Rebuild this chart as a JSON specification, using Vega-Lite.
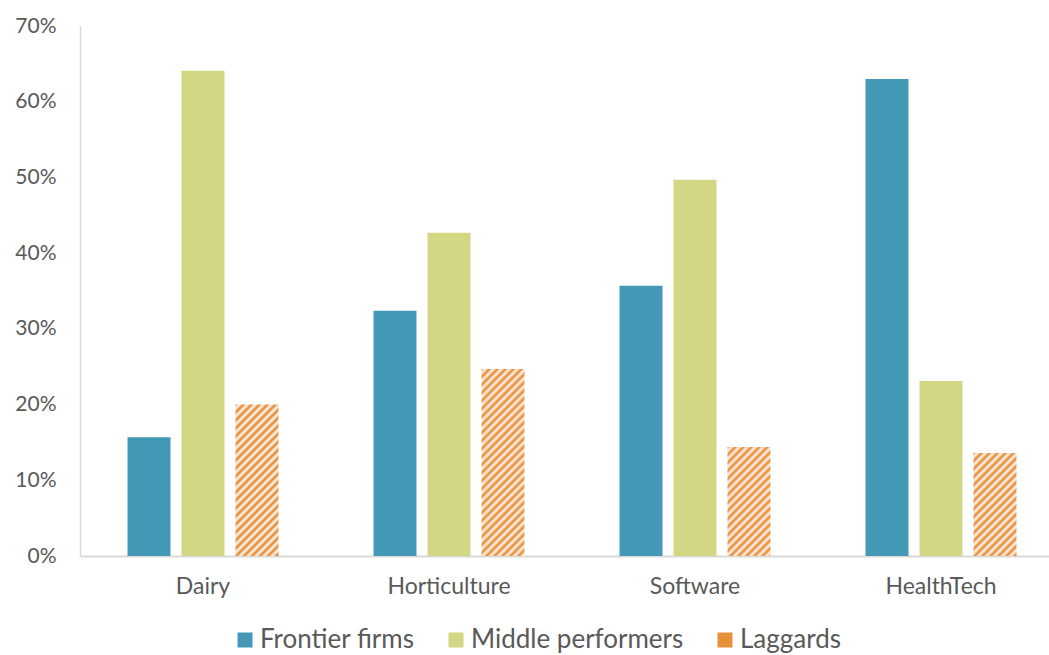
{
  "$schema": "https://vega.github.io/schema/vega-lite/v6.json",
  "width": 969,
  "height": 530,
  "autosize": {"type": "none"},
  "padding": {"left": 80, "top": 26, "right": 0, "bottom": 99},
  "background": "#ffffff",
  "config": {
    "view": {"stroke": null},
    "font": "Lato",
    "axis": {"labelFont": "Lato", "labelColor": "#595959"},
    "legend": {"labelFont": "Lato", "labelColor": "#595959"}
  },
  "data": {
    "values": [
      {"sector": "Dairy", "group": "Frontier firms", "value": 0.157},
      {"sector": "Dairy", "group": "Middle performers", "value": 0.641},
      {"sector": "Dairy", "group": "Laggards", "value": 0.200},
      {"sector": "Horticulture", "group": "Frontier firms", "value": 0.324},
      {"sector": "Horticulture", "group": "Middle performers", "value": 0.427},
      {"sector": "Horticulture", "group": "Laggards", "value": 0.247},
      {"sector": "Software", "group": "Frontier firms", "value": 0.357},
      {"sector": "Software", "group": "Middle performers", "value": 0.497},
      {"sector": "Software", "group": "Laggards", "value": 0.144},
      {"sector": "HealthTech", "group": "Frontier firms", "value": 0.630},
      {"sector": "HealthTech", "group": "Middle performers", "value": 0.231},
      {"sector": "HealthTech", "group": "Laggards", "value": 0.136}
    ]
  },
  "mark": {"type": "bar"},
  "encoding": {
    "x": {
      "field": "sector",
      "type": "nominal",
      "sort": ["Dairy", "Horticulture", "Software", "HealthTech"],
      "scale": {"range": [0, 984], "paddingInner": 0, "paddingOuter": 0},
      "axis": {"title": null, "labelAngle": 0, "labelFontSize": 23, "labelPadding": 19, "ticks": false, "domainColor": "#D9D9D9", "domainWidth": 2}
    },
    "xOffset": {
      "field": "group",
      "type": "nominal",
      "sort": ["Frontier firms", "Middle performers", "Laggards"],
      "scale": {"paddingInner": 0.2037, "paddingOuter": 0.88}
    },
    "y": {
      "field": "value",
      "type": "quantitative",
      "scale": {"domain": [0, 0.7], "nice": false},
      "axis": {"title": null, "format": ".0%", "values": [0, 0.1, 0.2, 0.3, 0.4, 0.5, 0.6, 0.7], "grid": false, "ticks": false, "labelFontSize": 21, "labelPadding": 24, "domainColor": "#D9D9D9", "domainWidth": 1.5}
    },
    "fill": {
      "condition": [
        {"test": "datum.group === 'Laggards' && datum.sector === 'Dairy'", "value": {"gradient": "linear", "x1": 0, "y1": 0, "x2": 0.33746, "y2": 1.18817, "stops": [
          {"offset": 0, "color": "#E4852E"}, {"offset": 0.0206, "color": "#fff8f0"}, {"offset": 0.0412, "color": "#E4852E"}, {"offset": 0.0617, "color": "#fff8f0"}, {"offset": 0.0823, "color": "#E4852E"}, {"offset": 0.1029, "color": "#fff8f0"}, {"offset": 0.1235, "color": "#E4852E"}, {"offset": 0.1440, "color": "#fff8f0"}, {"offset": 0.1646, "color": "#E4852E"}, {"offset": 0.1852, "color": "#fff8f0"}, {"offset": 0.2058, "color": "#E4852E"}, {"offset": 0.2263, "color": "#fff8f0"}, {"offset": 0.2469, "color": "#E4852E"}, {"offset": 0.2675, "color": "#fff8f0"}, {"offset": 0.2881, "color": "#E4852E"}, {"offset": 0.3086, "color": "#fff8f0"}, {"offset": 0.3292, "color": "#E4852E"}, {"offset": 0.3498, "color": "#fff8f0"}, {"offset": 0.3704, "color": "#E4852E"}, {"offset": 0.3909, "color": "#fff8f0"}, {"offset": 0.4115, "color": "#E4852E"}, {"offset": 0.4321, "color": "#fff8f0"}, {"offset": 0.4527, "color": "#E4852E"}, {"offset": 0.4733, "color": "#fff8f0"}, {"offset": 0.4938, "color": "#E4852E"}, {"offset": 0.5144, "color": "#fff8f0"}, {"offset": 0.5350, "color": "#E4852E"}, {"offset": 0.5556, "color": "#fff8f0"}, {"offset": 0.5761, "color": "#E4852E"}, {"offset": 0.5967, "color": "#fff8f0"}, {"offset": 0.6173, "color": "#E4852E"}, {"offset": 0.6379, "color": "#fff8f0"}, {"offset": 0.6584, "color": "#E4852E"}, {"offset": 0.6790, "color": "#fff8f0"}, {"offset": 0.6996, "color": "#E4852E"}, {"offset": 0.7202, "color": "#fff8f0"}, {"offset": 0.7407, "color": "#E4852E"}, {"offset": 0.7613, "color": "#fff8f0"}, {"offset": 0.7819, "color": "#E4852E"}, {"offset": 0.8025, "color": "#fff8f0"}, {"offset": 0.8230, "color": "#E4852E"}, {"offset": 0.8436, "color": "#fff8f0"}, {"offset": 0.8642, "color": "#E4852E"}, {"offset": 0.8848, "color": "#fff8f0"}, {"offset": 0.9053, "color": "#E4852E"}, {"offset": 0.9259, "color": "#fff8f0"}, {"offset": 0.9465, "color": "#E4852E"}, {"offset": 0.9671, "color": "#fff8f0"}, {"offset": 0.9877, "color": "#E4852E"}
        ]}},
        {"test": "datum.group === 'Laggards' && datum.sector === 'Horticulture'", "value": {"gradient": "linear", "x1": 0, "y1": 0, "x2": 0.26862, "y2": 1.16818, "stops": [
          {"offset": 0, "color": "#E4852E"}, {"offset": 0.0174, "color": "#fff8f0"}, {"offset": 0.0348, "color": "#E4852E"}, {"offset": 0.0522, "color": "#fff8f0"}, {"offset": 0.0696, "color": "#E4852E"}, {"offset": 0.0870, "color": "#fff8f0"}, {"offset": 0.1043, "color": "#E4852E"}, {"offset": 0.1217, "color": "#fff8f0"}, {"offset": 0.1391, "color": "#E4852E"}, {"offset": 0.1565, "color": "#fff8f0"}, {"offset": 0.1739, "color": "#E4852E"}, {"offset": 0.1913, "color": "#fff8f0"}, {"offset": 0.2087, "color": "#E4852E"}, {"offset": 0.2261, "color": "#fff8f0"}, {"offset": 0.2435, "color": "#E4852E"}, {"offset": 0.2609, "color": "#fff8f0"}, {"offset": 0.2783, "color": "#E4852E"}, {"offset": 0.2957, "color": "#fff8f0"}, {"offset": 0.3130, "color": "#E4852E"}, {"offset": 0.3304, "color": "#fff8f0"}, {"offset": 0.3478, "color": "#E4852E"}, {"offset": 0.3652, "color": "#fff8f0"}, {"offset": 0.3826, "color": "#E4852E"}, {"offset": 0.4000, "color": "#fff8f0"}, {"offset": 0.4174, "color": "#E4852E"}, {"offset": 0.4348, "color": "#fff8f0"}, {"offset": 0.4522, "color": "#E4852E"}, {"offset": 0.4696, "color": "#fff8f0"}, {"offset": 0.4870, "color": "#E4852E"}, {"offset": 0.5043, "color": "#fff8f0"}, {"offset": 0.5217, "color": "#E4852E"}, {"offset": 0.5391, "color": "#fff8f0"}, {"offset": 0.5565, "color": "#E4852E"}, {"offset": 0.5739, "color": "#fff8f0"}, {"offset": 0.5913, "color": "#E4852E"}, {"offset": 0.6087, "color": "#fff8f0"}, {"offset": 0.6261, "color": "#E4852E"}, {"offset": 0.6435, "color": "#fff8f0"}, {"offset": 0.6609, "color": "#E4852E"}, {"offset": 0.6783, "color": "#fff8f0"}, {"offset": 0.6957, "color": "#E4852E"}, {"offset": 0.7130, "color": "#fff8f0"}, {"offset": 0.7304, "color": "#E4852E"}, {"offset": 0.7478, "color": "#fff8f0"}, {"offset": 0.7652, "color": "#E4852E"}, {"offset": 0.7826, "color": "#fff8f0"}, {"offset": 0.8000, "color": "#E4852E"}, {"offset": 0.8174, "color": "#fff8f0"}, {"offset": 0.8348, "color": "#E4852E"}, {"offset": 0.8522, "color": "#fff8f0"}, {"offset": 0.8696, "color": "#E4852E"}, {"offset": 0.8870, "color": "#fff8f0"}, {"offset": 0.9043, "color": "#E4852E"}, {"offset": 0.9217, "color": "#fff8f0"}, {"offset": 0.9391, "color": "#E4852E"}, {"offset": 0.9565, "color": "#fff8f0"}, {"offset": 0.9739, "color": "#E4852E"}, {"offset": 0.9913, "color": "#fff8f0"}
        ]}},
        {"test": "datum.group === 'Laggards' && datum.sector === 'Software'", "value": {"gradient": "linear", "x1": 0, "y1": 0, "x2": 0.47604, "y2": 1.20672, "stops": [
          {"offset": 0, "color": "#E4852E"}, {"offset": 0.0263, "color": "#fff8f0"}, {"offset": 0.0526, "color": "#E4852E"}, {"offset": 0.0789, "color": "#fff8f0"}, {"offset": 0.1053, "color": "#E4852E"}, {"offset": 0.1316, "color": "#fff8f0"}, {"offset": 0.1579, "color": "#E4852E"}, {"offset": 0.1842, "color": "#fff8f0"}, {"offset": 0.2105, "color": "#E4852E"}, {"offset": 0.2368, "color": "#fff8f0"}, {"offset": 0.2632, "color": "#E4852E"}, {"offset": 0.2895, "color": "#fff8f0"}, {"offset": 0.3158, "color": "#E4852E"}, {"offset": 0.3421, "color": "#fff8f0"}, {"offset": 0.3684, "color": "#E4852E"}, {"offset": 0.3947, "color": "#fff8f0"}, {"offset": 0.4211, "color": "#E4852E"}, {"offset": 0.4474, "color": "#fff8f0"}, {"offset": 0.4737, "color": "#E4852E"}, {"offset": 0.5000, "color": "#fff8f0"}, {"offset": 0.5263, "color": "#E4852E"}, {"offset": 0.5526, "color": "#fff8f0"}, {"offset": 0.5789, "color": "#E4852E"}, {"offset": 0.6053, "color": "#fff8f0"}, {"offset": 0.6316, "color": "#E4852E"}, {"offset": 0.6579, "color": "#fff8f0"}, {"offset": 0.6842, "color": "#E4852E"}, {"offset": 0.7105, "color": "#fff8f0"}, {"offset": 0.7368, "color": "#E4852E"}, {"offset": 0.7632, "color": "#fff8f0"}, {"offset": 0.7895, "color": "#E4852E"}, {"offset": 0.8158, "color": "#fff8f0"}, {"offset": 0.8421, "color": "#E4852E"}, {"offset": 0.8684, "color": "#fff8f0"}, {"offset": 0.8947, "color": "#E4852E"}, {"offset": 0.9211, "color": "#fff8f0"}, {"offset": 0.9474, "color": "#E4852E"}, {"offset": 0.9737, "color": "#fff8f0"}, {"offset": 1, "color": "#E4852E"}
        ]}},
        {"test": "datum.group === 'Laggards' && datum.sector === 'HealthTech'", "value": {"gradient": "linear", "x1": 0, "y1": 0, "x2": 0.50393, "y2": 1.20708, "stops": [
          {"offset": 0, "color": "#E4852E"}, {"offset": 0.0274, "color": "#fff8f0"}, {"offset": 0.0548, "color": "#E4852E"}, {"offset": 0.0822, "color": "#fff8f0"}, {"offset": 0.1096, "color": "#E4852E"}, {"offset": 0.1370, "color": "#fff8f0"}, {"offset": 0.1644, "color": "#E4852E"}, {"offset": 0.1918, "color": "#fff8f0"}, {"offset": 0.2192, "color": "#E4852E"}, {"offset": 0.2466, "color": "#fff8f0"}, {"offset": 0.2740, "color": "#E4852E"}, {"offset": 0.3014, "color": "#fff8f0"}, {"offset": 0.3288, "color": "#E4852E"}, {"offset": 0.3562, "color": "#fff8f0"}, {"offset": 0.3836, "color": "#E4852E"}, {"offset": 0.4110, "color": "#fff8f0"}, {"offset": 0.4384, "color": "#E4852E"}, {"offset": 0.4658, "color": "#fff8f0"}, {"offset": 0.4932, "color": "#E4852E"}, {"offset": 0.5205, "color": "#fff8f0"}, {"offset": 0.5479, "color": "#E4852E"}, {"offset": 0.5753, "color": "#fff8f0"}, {"offset": 0.6027, "color": "#E4852E"}, {"offset": 0.6301, "color": "#fff8f0"}, {"offset": 0.6575, "color": "#E4852E"}, {"offset": 0.6849, "color": "#fff8f0"}, {"offset": 0.7123, "color": "#E4852E"}, {"offset": 0.7397, "color": "#fff8f0"}, {"offset": 0.7671, "color": "#E4852E"}, {"offset": 0.7945, "color": "#fff8f0"}, {"offset": 0.8219, "color": "#E4852E"}, {"offset": 0.8493, "color": "#fff8f0"}, {"offset": 0.8767, "color": "#E4852E"}, {"offset": 0.9041, "color": "#fff8f0"}, {"offset": 0.9315, "color": "#E4852E"}, {"offset": 0.9589, "color": "#fff8f0"}, {"offset": 0.9863, "color": "#E4852E"}
        ]}}
      ],
      "field": "group",
      "type": "nominal",
      "scale": {"domain": ["Frontier firms", "Middle performers", "Laggards"], "range": ["#4398B5", "#D3D682", "#E8913A"]},
      "legend": {"title": null, "orient": "none", "legendX": 152, "legendY": 601, "direction": "horizontal", "symbolType": "square", "symbolSize": 225, "symbolStrokeWidth": 0, "labelFontSize": 26, "labelLimit": 400, "columnPadding": 28, "labelOffset": 2}
    }
  }
}
